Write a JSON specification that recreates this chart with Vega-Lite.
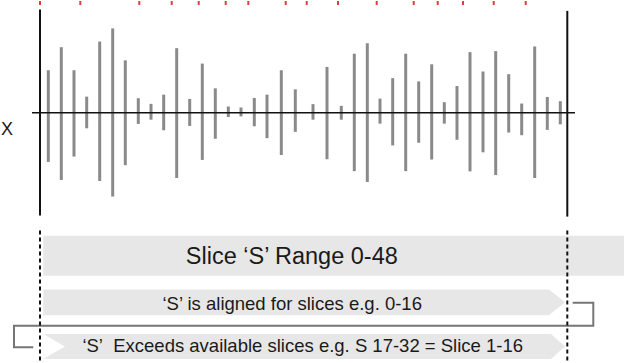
{
  "$schema": "https://vega.github.io/schema/vega-lite/v6.json",
  "width": 624,
  "height": 363,
  "autosize": {"type": "fit", "contains": "padding"},
  "padding": 0,
  "background": "#ffffff",
  "config": {"view": {"stroke": null}, "font": "Liberation Sans"},
  "datasets": {
    "bars": [
      {"x": 48.3, "hi": 43, "lo": -49.7}, {"x": 61.3, "hi": 66.3, "lo": -68}, {"x": 74, "hi": 43, "lo": -44.3},
      {"x": 86.7, "hi": 16.3, "lo": -15.7}, {"x": 99.7, "hi": 72, "lo": -69}, {"x": 112.7, "hi": 85.3, "lo": -84.7},
      {"x": 125.3, "hi": 53, "lo": -53}, {"x": 138.3, "hi": 14.7, "lo": -11.3}, {"x": 151, "hi": 9, "lo": -7},
      {"x": 163.7, "hi": 18.3, "lo": -17.7}, {"x": 176.7, "hi": 65.3, "lo": -66}, {"x": 189.7, "hi": 14, "lo": -13.3},
      {"x": 202.3, "hi": 49.7, "lo": -47.7}, {"x": 215.3, "hi": 24.7, "lo": -26.3}, {"x": 228.3, "hi": 6.3, "lo": -4.3},
      {"x": 241, "hi": 5.3, "lo": -3.7}, {"x": 254.3, "hi": 15, "lo": -13.7}, {"x": 267, "hi": 18.3, "lo": -25.7},
      {"x": 281.3, "hi": 43, "lo": -42.7}, {"x": 295.3, "hi": 23.7, "lo": -19.3}, {"x": 313, "hi": 8.7, "lo": -7},
      {"x": 327, "hi": 46.3, "lo": -47}, {"x": 341.3, "hi": 7, "lo": -7}, {"x": 354.3, "hi": 59.7, "lo": -59},
      {"x": 367.3, "hi": 70.3, "lo": -70}, {"x": 380, "hi": 14.3, "lo": -11}, {"x": 392.7, "hi": 35, "lo": -33},
      {"x": 405.7, "hi": 59.7, "lo": -59}, {"x": 418.7, "hi": 31.7, "lo": -30.3}, {"x": 431.7, "hi": 49, "lo": -47.3},
      {"x": 444.3, "hi": 10.7, "lo": -11}, {"x": 457, "hi": 27, "lo": -27.3}, {"x": 470, "hi": 61.3, "lo": -59.3},
      {"x": 483, "hi": 41.7, "lo": -40}, {"x": 495.7, "hi": 62.3, "lo": -63}, {"x": 508.7, "hi": 39, "lo": -20},
      {"x": 521.7, "hi": 9.3, "lo": -22.7}, {"x": 534.7, "hi": 67, "lo": -66}, {"x": 547.3, "hi": 16, "lo": -17.3},
      {"x": 560.3, "hi": 11.7, "lo": -11.7}
    ],
    "ticks": [
      {"x": 40}, {"x": 80.3}, {"x": 139.3}, {"x": 171.7}, {"x": 198.7}, {"x": 225.7}, {"x": 248.3}, {"x": 285.7},
      {"x": 306.7}, {"x": 338}, {"x": 376.7}, {"x": 413.7}, {"x": 437.7}, {"x": 463}, {"x": 493.7}, {"x": 525.7}
    ],
    "frame": [
      {"x": 40, "top": 104.5, "bottom": -104},
      {"x": 567.3, "top": 103, "bottom": -105}
    ],
    "dashed": [
      {"x": 40, "top": -119, "bottom": -252},
      {"x": 567.3, "top": -119, "bottom": -252}
    ],
    "band": [
      {"label": "Slice ‘S’ Range 0-48", "x1": 43.3, "x2": 624, "top": -124.3, "bottom": -164.7, "tx": 291.8, "ty": -152.7}
    ],
    "arrows": [
      {"shape": "aligned", "x": 43.3, "top": -178.7, "bottom": -204.7},
      {"shape": "aligned", "x": 549, "top": -178.7, "bottom": -204.7},
      {"shape": "aligned", "x": 565, "top": -191.7, "bottom": -191.7},
      {"shape": "exceeds", "x": 43.3, "top": -223.7, "bottom": -249},
      {"shape": "exceeds", "x": 551, "top": -223.7, "bottom": -249},
      {"shape": "exceeds", "x": 565, "top": -236.3, "bottom": -236.3}
    ],
    "notch": [
      {"x": 43.3, "top": -223.7, "bottom": -249},
      {"x": 65, "top": -236.3, "bottom": -236.3}
    ],
    "connector": [
      {"i": 0, "x": 572.7, "y": -192},
      {"i": 1, "x": 593.3, "y": -192},
      {"i": 2, "x": 593.3, "y": -215.3},
      {"i": 3, "x": 14, "y": -215.3},
      {"i": 4, "x": 14, "y": -237},
      {"i": 5, "x": 33.3, "y": -237}
    ],
    "labels": [
      {"text": "‘S’ is aligned for slices e.g. 0-16", "x": 292.2, "y": -199.3},
      {"text": "‘S’\u00a0 Exceeds available slices e.g. S 17-32 = Slice 1-16", "x": 302.7, "y": -242.3}
    ]
  },
  "encoding": {
    "x": {"type": "quantitative", "scale": {"domain": [0, 624], "nice": false, "zero": false}, "axis": null},
    "y": {"type": "quantitative", "scale": {"domain": [-250, 113], "nice": false, "zero": false}, "axis": null}
  },
  "layer": [
    {
      "data": {"name": "ticks"},
      "mark": {"type": "rule", "stroke": "#e23b36", "strokeWidth": 2},
      "encoding": {"x": {"field": "x", "type": "quantitative"}, "y": {"datum": 113}, "y2": {"datum": 109}}
    },
    {
      "data": {"name": "bars"},
      "mark": {"type": "rule", "stroke": "#8a8a8a", "strokeWidth": 3},
      "encoding": {"x": {"field": "x", "type": "quantitative"}, "y": {"field": "hi", "type": "quantitative"}, "y2": {"field": "lo"}}
    },
    {
      "data": {"values": [{"from": 32, "to": 575}]},
      "mark": {"type": "rule", "stroke": "#111111", "strokeWidth": 1.5},
      "encoding": {"x": {"field": "from", "type": "quantitative"}, "x2": {"field": "to"}, "y": {"datum": 0}}
    },
    {
      "data": {"name": "frame"},
      "mark": {"type": "rule", "stroke": "#111111", "strokeWidth": 2},
      "encoding": {"x": {"field": "x", "type": "quantitative"}, "y": {"field": "top", "type": "quantitative"}, "y2": {"field": "bottom"}}
    },
    {
      "data": {"name": "band"},
      "mark": {"type": "rect", "fill": "#e7e7e7"},
      "encoding": {"x": {"field": "x1", "type": "quantitative"}, "x2": {"field": "x2"}, "y": {"field": "top", "type": "quantitative"}, "y2": {"field": "bottom"}}
    },
    {
      "data": {"name": "arrows"},
      "mark": {"type": "area", "fill": "#e7e7e7", "interpolate": "linear"},
      "encoding": {"x": {"field": "x", "type": "quantitative"}, "y": {"field": "top", "type": "quantitative"}, "y2": {"field": "bottom"}, "detail": {"field": "shape"}}
    },
    {
      "data": {"name": "notch"},
      "mark": {"type": "area", "fill": "#ffffff", "interpolate": "linear"},
      "encoding": {"x": {"field": "x", "type": "quantitative"}, "y": {"field": "top", "type": "quantitative"}, "y2": {"field": "bottom"}}
    },
    {
      "data": {"name": "connector"},
      "mark": {"type": "line", "stroke": "#767676", "strokeWidth": 2},
      "encoding": {"x": {"field": "x", "type": "quantitative"}, "y": {"field": "y", "type": "quantitative"}, "order": {"field": "i"}}
    },
    {
      "data": {"name": "dashed"},
      "mark": {"type": "rule", "stroke": "#111111", "strokeWidth": 2, "strokeDash": [4, 3]},
      "encoding": {"x": {"field": "x", "type": "quantitative"}, "y": {"field": "top", "type": "quantitative"}, "y2": {"field": "bottom"}}
    },
    {
      "data": {"name": "band"},
      "mark": {"type": "text", "fontSize": 23.5, "font": "Liberation Sans", "fill": "#1a1a1a", "align": "center", "baseline": "alphabetic"},
      "encoding": {"x": {"field": "tx", "type": "quantitative"}, "y": {"field": "ty", "type": "quantitative"}, "text": {"field": "label"}}
    },
    {
      "data": {"name": "labels"},
      "mark": {"type": "text", "fontSize": 18.5, "font": "Liberation Sans", "fill": "#1a1a1a", "align": "center", "baseline": "alphabetic"},
      "encoding": {"x": {"field": "x", "type": "quantitative"}, "y": {"field": "y", "type": "quantitative"}, "text": {"field": "text"}}
    },
    {
      "data": {"values": [{"text": "X", "x": 7, "y": -22}]},
      "mark": {"type": "text", "fontSize": 18, "font": "Liberation Sans", "fill": "#1a1a1a", "align": "center", "baseline": "alphabetic"},
      "encoding": {"x": {"field": "x", "type": "quantitative"}, "y": {"field": "y", "type": "quantitative"}, "text": {"field": "text"}}
    }
  ]
}
